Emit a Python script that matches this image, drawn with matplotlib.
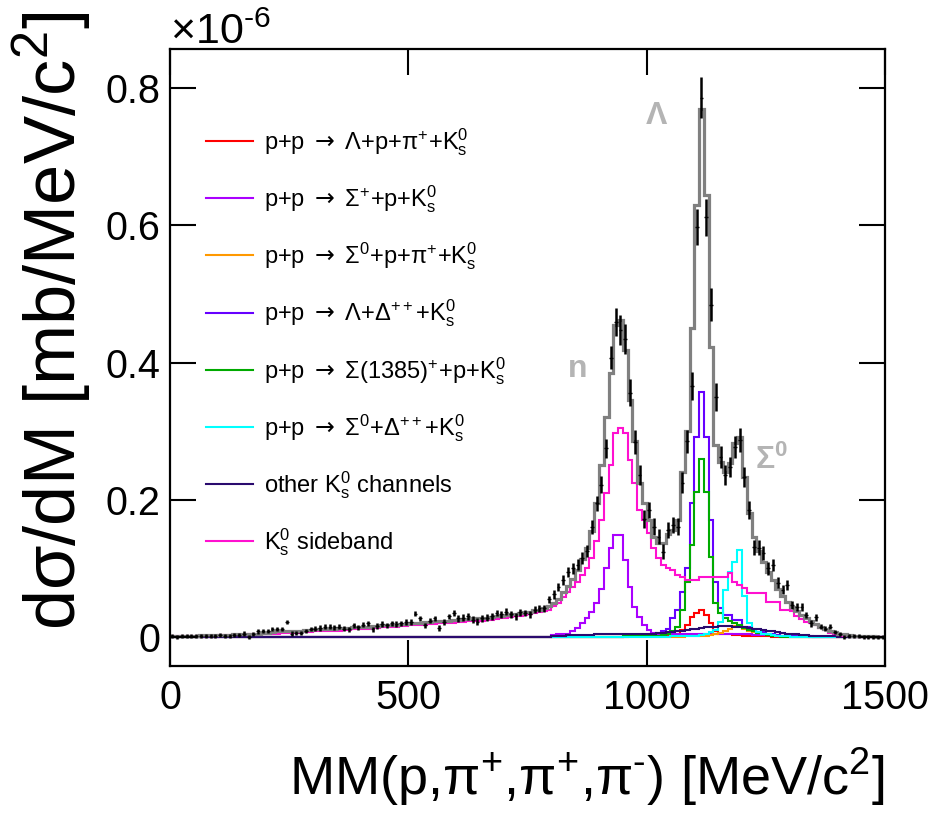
import numpy as np
import matplotlib
matplotlib.use("Agg")
import matplotlib.pyplot as plt

plt.rcParams['font.family'] = ['Liberation Sans', 'DejaVu Sans']
plt.rcParams['mathtext.fontset'] = 'custom'
plt.rcParams['mathtext.rm'] = 'Liberation Sans'
plt.rcParams['mathtext.it'] = 'Liberation Sans:italic'
plt.rcParams['mathtext.bf'] = 'Liberation Sans:bold'
plt.rcParams['mathtext.sf'] = 'DejaVu Sans'

# bins of 10 MeV/c2 from 0 to 1500, values in units of 1e-6 mb/(MeV/c2)
edges = np.arange(0, 1510, 10)

total = [
    0.002, 0.002, 0.002, 0.002, 0.002, 0.002, 0.003, 0.003, 0.003, 0.003,
    0.003, 0.003, 0.003, 0.004, 0.004, 0.004, 0.004, 0.005, 0.005, 0.006,
    0.006, 0.007, 0.008, 0.008, 0.009, 0.009, 0.009, 0.009, 0.010, 0.010,
    0.011, 0.011, 0.012, 0.012, 0.012, 0.013, 0.013, 0.013, 0.014, 0.014,
    0.015, 0.015, 0.016, 0.016, 0.017, 0.017, 0.018, 0.018, 0.019, 0.019,
    0.020, 0.021, 0.021, 0.022, 0.022, 0.023, 0.023, 0.024, 0.024, 0.025,
    0.025, 0.026, 0.026, 0.027, 0.027, 0.028, 0.028, 0.029, 0.030, 0.031,
    0.032, 0.033, 0.034, 0.035, 0.036, 0.037, 0.039, 0.040, 0.042, 0.045,
    0.050, 0.056, 0.065, 0.074, 0.085, 0.097, 0.113, 0.130, 0.155, 0.195,
    0.250, 0.320, 0.385, 0.455, 0.462, 0.418, 0.345, 0.285, 0.225, 0.195,
    0.170, 0.145, 0.137, 0.137, 0.150, 0.156, 0.170, 0.240, 0.300, 0.450,
    0.630, 0.770, 0.644, 0.423, 0.280, 0.255, 0.240, 0.253, 0.283, 0.292,
    0.233, 0.180, 0.146, 0.125, 0.110, 0.095, 0.083, 0.070, 0.060, 0.051,
    0.044, 0.038, 0.032, 0.027, 0.023, 0.019, 0.015, 0.012, 0.009, 0.007,
    0.005, 0.004, 0.003, 0.002, 0.002, 0.001, 0.001, 0.001, 0.000, 0.000,
]

sideband = [
    0.001, 0.001, 0.001, 0.002, 0.002, 0.002, 0.002, 0.002, 0.002, 0.002,
    0.003, 0.003, 0.003, 0.003, 0.003, 0.003, 0.004, 0.004, 0.004, 0.004,
    0.005, 0.005, 0.005, 0.006, 0.006, 0.006, 0.006, 0.007, 0.007, 0.007,
    0.008, 0.008, 0.008, 0.009, 0.009, 0.009, 0.010, 0.010, 0.011, 0.011,
    0.012, 0.012, 0.013, 0.013, 0.014, 0.014, 0.015, 0.015, 0.016, 0.016,
    0.017, 0.017, 0.018, 0.018, 0.019, 0.019, 0.020, 0.020, 0.021, 0.021,
    0.022, 0.022, 0.023, 0.023, 0.024, 0.024, 0.025, 0.025, 0.026, 0.027,
    0.028, 0.029, 0.030, 0.031, 0.032, 0.033, 0.035, 0.036, 0.038, 0.040,
    0.045, 0.050, 0.058, 0.066, 0.073, 0.080, 0.090, 0.100, 0.115, 0.140,
    0.170, 0.210, 0.250, 0.297, 0.305, 0.297, 0.258, 0.224, 0.185, 0.170,
    0.152, 0.130, 0.115, 0.105, 0.100, 0.098, 0.090, 0.087, 0.083, 0.083,
    0.083, 0.087, 0.087, 0.087, 0.087, 0.087, 0.087, 0.093, 0.080, 0.076,
    0.071, 0.064, 0.064, 0.064, 0.064, 0.051, 0.051, 0.051, 0.040, 0.040,
    0.038, 0.030, 0.026, 0.022, 0.020, 0.017, 0.013, 0.010, 0.006, 0.004,
    0.003, 0.002, 0.001, 0.001, 0.000, 0.000, 0.000, 0.000, 0.000, 0.000,
]

data = [
    0.001, 0.000, 0.001, 0.002, 0.001, 0.002, 0.001, 0.002, 0.002, 0.001,
    0.003, 0.002, 0.002, 0.003, 0.003, 0.005, 0.000, 0.004, 0.008, 0.009,
    0.009, 0.011, 0.012, 0.012, 0.022, 0.005, 0.006, 0.006, 0.009, 0.011,
    0.012, 0.013, 0.015, 0.015, 0.014, 0.015, 0.012, 0.011, 0.017, 0.014,
    0.018, 0.020, 0.011, 0.016, 0.019, 0.017, 0.020, 0.019, 0.020, 0.022,
    0.022, 0.034, 0.027, 0.017, 0.024, 0.027, 0.013, 0.022, 0.030, 0.035,
    0.027, 0.028, 0.030, 0.025, 0.022, 0.027, 0.028, 0.030, 0.035, 0.033,
    0.037, 0.033, 0.030, 0.036, 0.035, 0.033, 0.040, 0.042, 0.042, 0.055,
    0.062, 0.073, 0.083, 0.095, 0.100, 0.105, 0.115, 0.125, 0.160, 0.195,
    0.222, 0.275, 0.407, 0.459, 0.447, 0.434, 0.356, 0.284, 0.236, 0.172,
    0.185, 0.161, 0.146, 0.124, 0.156, 0.163, 0.161, 0.225, 0.285, 0.366,
    0.598, 0.786, 0.612, 0.484, 0.350, 0.263, 0.236, 0.248, 0.277, 0.287,
    0.233, 0.185, 0.131, 0.130, 0.122, 0.100, 0.105, 0.079, 0.069, 0.076,
    0.047, 0.044, 0.044, 0.032, 0.020, 0.029, 0.015, 0.012, 0.015, 0.007,
    0.004, 0.000, 0.002, 0.001, 0.001, 0.000, 0.000, 0.000, 0.000, 0.000,
]

data_err = (
    [0.003] * 30 + [0.004] * 30 + [0.005] * 20 +
    [0.006, 0.006, 0.007, 0.007, 0.008, 0.008, 0.009, 0.009, 0.010, 0.011,
     0.012, 0.014, 0.017, 0.020, 0.022, 0.022, 0.020, 0.017, 0.015, 0.013,
     0.012, 0.012, 0.011, 0.011, 0.012, 0.012, 0.012, 0.015, 0.017, 0.020,
     0.026, 0.030, 0.027, 0.024, 0.020, 0.016, 0.014, 0.015, 0.016, 0.017,
     0.015, 0.013, 0.011, 0.011, 0.010, 0.009, 0.009, 0.008, 0.007, 0.007,
     0.006, 0.006, 0.006, 0.005, 0.005, 0.005, 0.004, 0.004, 0.004, 0.003] +
    [0.003] * 10
)

# simulated channels, bins from 800 to 1450 MeV/c2 (zero elsewhere)
first_bin = 80
lam_p_pi = [
    0, 0, 0, 0, 0, 0, 0, 0, 0, 0,
    0, 0, 0, 0, 0, 0, 0.001, 0.001, 0.001, 0.001,
    0.001, 0.001, 0.001, 0.002, 0.002, 0.003, 0.005, 0.010, 0.018, 0.029,
    0.035, 0.040, 0.032, 0.020, 0.008, 0.005, 0.004, 0.004, 0.003, 0.003,
    0.002, 0.002, 0.001, 0.001, 0.001, 0.001, 0, 0, 0, 0,
    0, 0, 0, 0, 0, 0, 0, 0, 0, 0,
    0, 0, 0, 0, 0,
]
sigp_p = [
    0.003, 0.004, 0.004, 0.005, 0.008, 0.013, 0.020, 0.027, 0.037, 0.050,
    0.070, 0.100, 0.130, 0.149, 0.148, 0.112, 0.073, 0.044, 0.029, 0.017,
    0.010, 0.006, 0.005, 0.005, 0.004, 0.004, 0.004, 0.004, 0.004, 0.004,
    0.004, 0.004, 0.004, 0.004, 0.004, 0.004, 0.004, 0.004, 0.004, 0.004,
    0.004, 0.004, 0.003, 0.003, 0.003, 0.003, 0.002, 0.002, 0.002, 0.002,
    0.001, 0.001, 0.001, 0.001, 0.001, 0, 0, 0, 0, 0,
    0, 0, 0, 0, 0,
]
sig0_p_pi = [
    0, 0, 0, 0, 0, 0, 0, 0, 0, 0,
    0, 0, 0, 0, 0, 0, 0, 0, 0, 0,
    0, 0, 0, 0, 0, 0, 0, 0, 0.001, 0.001,
    0.001, 0.001, 0.002, 0.003, 0.004, 0.006, 0.008, 0.012, 0.016, 0.016,
    0.012, 0.009, 0.007, 0.006, 0.005, 0.004, 0.003, 0.002, 0.001, 0.001,
    0, 0, 0, 0, 0, 0, 0, 0, 0, 0,
    0, 0, 0, 0, 0,
]
lam_delta = [
    0, 0, 0, 0, 0, 0, 0, 0, 0, 0,
    0, 0, 0, 0, 0, 0.001, 0.001, 0.001, 0.002, 0.002,
    0.003, 0.004, 0.006, 0.008, 0.012, 0.027, 0.040, 0.066, 0.100, 0.195,
    0.292, 0.357, 0.292, 0.170, 0.080, 0.042, 0.032, 0.032, 0.025, 0.025,
    0.015, 0.015, 0.010, 0.007, 0.007, 0.005, 0.004, 0.003, 0.002, 0.002,
    0.001, 0.001, 0.001, 0.001, 0, 0, 0, 0, 0, 0,
    0, 0, 0, 0, 0,
]
sig1385_p = [
    0, 0, 0, 0, 0, 0, 0, 0, 0, 0,
    0, 0, 0, 0, 0, 0.001, 0.001, 0.001, 0.001, 0.001,
    0.001, 0.002, 0.002, 0.003, 0.005, 0.008, 0.015, 0.040, 0.080, 0.134,
    0.211, 0.260, 0.211, 0.117, 0.050, 0.035, 0.028, 0.024, 0.020, 0.017,
    0.013, 0.010, 0.008, 0.006, 0.004, 0.003, 0.002, 0.001, 0, 0,
    0, 0, 0, 0, 0, 0, 0, 0, 0, 0,
    0, 0, 0, 0, 0,
]
sig0_delta = [
    0, 0, 0, 0, 0, 0, 0, 0, 0, 0,
    0, 0, 0, 0, 0, 0, 0, 0, 0, 0,
    0, 0, 0, 0, 0, 0.001, 0.001, 0.001, 0.001, 0.002,
    0.002, 0.003, 0.005, 0.007, 0.010, 0.022, 0.068, 0.095, 0.109, 0.127,
    0.060, 0.020, 0.012, 0.007, 0.005, 0.004, 0.003, 0.002, 0.001, 0.001,
    0, 0, 0, 0, 0, 0, 0, 0, 0, 0,
    0, 0, 0, 0, 0,
]
other = [
    0.002, 0.002, 0.002, 0.003, 0.003, 0.003, 0.003, 0.003, 0.003, 0.004,
    0.004, 0.004, 0.004, 0.004, 0.004, 0.004, 0.004, 0.005, 0.005, 0.005,
    0.005, 0.005, 0.006, 0.006, 0.007, 0.007, 0.008, 0.009, 0.010, 0.011,
    0.012, 0.013, 0.014, 0.015, 0.015, 0.016, 0.016, 0.016, 0.015, 0.015,
    0.014, 0.013, 0.012, 0.011, 0.010, 0.009, 0.008, 0.007, 0.006, 0.005,
    0.004, 0.004, 0.003, 0.003, 0.002, 0.002, 0.001, 0.001, 0.001, 0.001,
    0, 0, 0, 0, 0,
]

channels = [lam_p_pi, sigp_p, sig0_p_pi, lam_delta, sig1385_p, sig0_delta, other]
colors = ['#ff0000', '#aa00ff', '#ff9900', '#6600ff', '#00aa00', '#00ffff', '#2a0a6e']
arrow = r" $\mathsf{\rightarrow}$ "
labels = [
    r"p+p" + arrow + r"Λ+p+π$^{+}$+K$^{0}_{\mathrm{s}}$",
    r"p+p" + arrow + r"Σ$^{+}$+p+K$^{0}_{\mathrm{s}}$",
    r"p+p" + arrow + r"Σ$^{0}$+p+π$^{+}$+K$^{0}_{\mathrm{s}}$",
    r"p+p" + arrow + r"Λ+Δ$^{++}$+K$^{0}_{\mathrm{s}}$",
    r"p+p" + arrow + r"Σ(1385)$^{+}$+p+K$^{0}_{\mathrm{s}}$",
    r"p+p" + arrow + r"Σ$^{0}$+Δ$^{++}$+K$^{0}_{\mathrm{s}}$",
    r"other K$^{0}_{\mathrm{s}}$ channels",
]
sideband_label = r"K$^{0}_{\mathrm{s}}$ sideband"
sideband_color = '#ff10d0'

yticks = [0, 0.2, 0.4, 0.6, 0.8]
ytick_labels = ['0', '0.2', '0.4', '0.6', '0.8']
xticks = [0, 500, 1000, 1500]

fig = plt.figure(figsize=(9.37, 8.13), dpi=100)
ax = fig.add_axes([170 / 937, 147 / 813, 715 / 937, 617 / 813])

nbins = len(edges) - 1
handles = []
for vals, col in zip(channels, colors):
    full = np.zeros(nbins)
    full[first_bin:first_bin + len(vals)] = vals
    h = ax.stairs(full, edges, color=col, lw=1.5, baseline=None)
    handles.append(h)
hs = ax.stairs(sideband, edges, color=sideband_color, lw=1.5, baseline=None)
handles.append(hs)
ax.stairs(total, edges, color='#808080', lw=2.3, baseline=None)

centers = edges[:-1] + 5
ax.errorbar(centers, data, yerr=data_err, fmt='none', ecolor='black',
            elinewidth=1.8, capsize=0, zorder=5)
ax.errorbar(centers, data, xerr=4, fmt='none', ecolor='black',
            elinewidth=1.0, capsize=0, zorder=5)

ax.set_xlim(0, 1500)
ax.set_ylim(-0.0423, 0.857)
ax.set_xticks(xticks)
ax.set_yticks(yticks, ytick_labels)
ax.tick_params(direction='in', length=19, width=1.5, top=True, right=True,
               labelsize=28.5)
ax.tick_params(axis='x', pad=9)
ax.tick_params(axis='y', pad=7)
for sp in ax.spines.values():
    sp.set_linewidth(1.6)

ax.legend(handles, labels + [sideband_label], loc='upper left',
          bbox_to_anchor=(0.05, 0.875), frameon=False, fontsize=17,
          handlelength=2.0, handletextpad=0.45, labelspacing=1.08,
          borderpad=0, borderaxespad=0)

peak_style = dict(color='#b4b4b4', fontsize=23, fontweight='bold',
                  ha='center', va='center')
ax.text(1021, 0.760, 'Λ', **peak_style)
ax.text(855, 0.390, 'n', **peak_style)
ax.text(1262, 0.258, r'Σ$^{\mathbf{0}}$', **peak_style)

fig.text(170 / 937, 1 - 44 / 813, r"×10$^{\text{-6}}$", ha='left', va='baseline',
         fontsize=31)
fig.text(52 / 937, 1 - 12 / 813, r"dσ/dM [mb/MeV/c$^{2}$]", rotation=90,
         ha='center', va='top', fontsize=52)
fig.text(885 / 937, 1 - 808 / 813,
         r"MM(p,π$^{+}$,π$^{+}$,π$^{\text{-}}$) [MeV/c$^{2}$]",
         ha='right', va='bottom', fontsize=39)

fig.savefig('out.png', dpi=100)
